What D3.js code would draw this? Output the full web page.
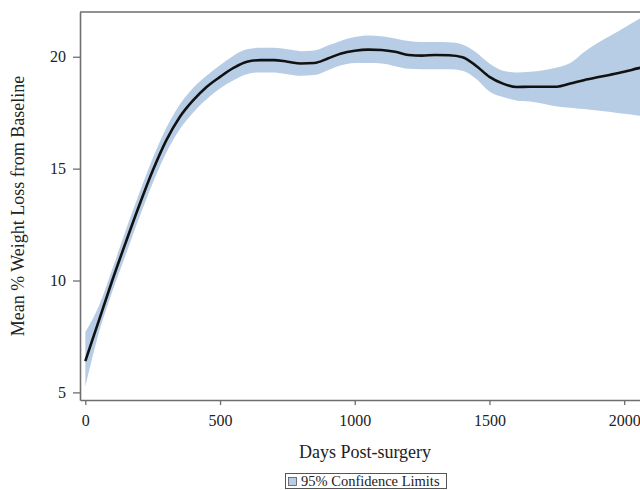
<!DOCTYPE html>
<html>
<head>
<meta charset="utf-8">
<script src="https://cdn.jsdelivr.net/npm/d3@7"></script>
<style>
  body { margin: 0; background: #fff; }
  svg { display: block; font-family: "Liberation Serif", "DejaVu Serif", serif; }
</style>
</head>
<body>
<svg id="chart" width="640" height="490"></svg>
<script>
// Datos
const days = [0, 50, 100, 150, 200, 250, 300, 350, 400, 450, 500, 550, 600, 650, 700, 750, 800, 850, 900, 950,
  1000, 1050, 1100, 1150, 1200, 1250, 1300, 1350, 1400, 1450, 1500, 1550, 1600, 1650, 1700, 1750, 1800,
  1850, 1900, 1950, 2000, 2050, 2100];
const meanLoss = [6.4, 8.2, 10.0, 11.7, 13.35, 14.9, 16.25, 17.3, 18.05, 18.65, 19.1, 19.5, 19.78, 19.85, 19.85,
  19.78, 19.7, 19.72, 19.92, 20.15, 20.27, 20.32, 20.3, 20.22, 20.08, 20.05, 20.08, 20.07, 19.98, 19.6, 19.1,
  18.8, 18.65, 18.66, 18.66, 18.66, 18.8, 18.95, 19.08, 19.2, 19.33, 19.48, 19.62];
const lowerCL = [5.25, 7.65, 9.5, 11.15, 12.8, 14.35, 15.7, 16.75, 17.5, 18.1, 18.58, 18.95, 19.22, 19.3, 19.3,
  19.22, 19.15, 19.18, 19.4, 19.62, 19.72, 19.72, 19.7, 19.58, 19.46, 19.44, 19.44, 19.44, 19.38, 19.02, 18.45,
  18.2, 18.05, 18.0, 17.9, 17.78, 17.72, 17.66, 17.6, 17.53, 17.45, 17.38, 17.3];
const upperCL = [7.7, 8.85, 10.5, 12.25, 13.9, 15.45, 16.8, 17.85, 18.6, 19.15, 19.62, 20.05, 20.33, 20.4, 20.4,
  20.33, 20.25, 20.28, 20.5, 20.72, 20.88, 20.95, 20.92, 20.82, 20.7, 20.66, 20.66, 20.65, 20.55, 20.2, 19.7,
  19.38, 19.3, 19.33, 19.4, 19.52, 19.72, 20.2, 20.6, 20.95, 21.3, 21.65, 22.0];
const xTicks = [0, 500, 1000, 1500, 2000];
const yTicks = [5, 10, 15, 20];

const bandColor = '#b7cde6';
const frameColor = '#6e6e6e';

const rows = days.map((d, i) => ({ day: d, mean: meanLoss[i], lo: lowerCL[i], hi: upperCL[i] }));

const svg = d3.select('#chart');
const plotLeft = 80, plotRight = 660, plotTop = 12, plotBottom = 400;

const x = d3.scaleLinear().domain([-19.7, 2133]).range([plotLeft, plotRight]);
const y = d3.scaleLinear().domain([4.66, 22.0]).range([plotBottom, plotTop]);

svg.append('clipPath').attr('id', 'plotClip')
  .append('rect').attr('x', plotLeft).attr('y', plotTop)
  .attr('width', plotRight - plotLeft).attr('height', plotBottom - plotTop);

const plot = svg.append('g').attr('clip-path', 'url(#plotClip)');

// Banda de confianza
const band = d3.area()
  .x(d => x(d.day))
  .y0(d => y(d.lo))
  .y1(d => y(d.hi))
  .curve(d3.curveMonotoneX);

plot.append('path')
  .datum(rows)
  .attr('d', band)
  .attr('fill', bandColor);

// Linea media
const line = d3.line()
  .x(d => x(d.day))
  .y(d => y(d.mean))
  .curve(d3.curveMonotoneX);

plot.append('path')
  .datum(rows)
  .attr('d', line)
  .attr('fill', 'none')
  .attr('stroke', '#111')
  .attr('stroke-width', 2.6)
  .attr('stroke-linejoin', 'round');

// Ejes
const yAxis = svg.append('g')
  .attr('transform', `translate(${plotLeft},0)`)
  .call(d3.axisLeft(y).tickValues(yTicks).tickSize(7).tickSizeOuter(0).tickPadding(7)
    .tickFormat(d3.format('d')));

const xAxis = svg.append('g')
  .attr('transform', `translate(0,${plotBottom})`)
  .call(d3.axisBottom(x).tickValues(xTicks).tickSize(5).tickSizeOuter(0).tickPadding(10)
    .tickFormat(d3.format('d')));

[yAxis, xAxis].forEach(g => {
  g.attr('font-family', null).attr('font-size', 16);
  g.select('.domain').attr('stroke', frameColor).attr('stroke-width', 1.6);
  g.selectAll('.tick line').attr('stroke', frameColor).attr('stroke-width', 1.3);
  g.selectAll('.tick text').attr('fill', '#222');
});

// Borde superior
svg.append('line')
  .attr('x1', plotLeft).attr('x2', plotRight)
  .attr('y1', plotTop).attr('y2', plotTop)
  .attr('stroke', frameColor).attr('stroke-width', 1.6);

// Titulos
svg.append('text')
  .attr('transform', 'translate(24,206) rotate(-90)')
  .attr('text-anchor', 'middle')
  .attr('font-size', 18)
  .attr('fill', '#222')
  .text('Mean % Weight Loss from Baseline');

svg.append('text')
  .attr('x', 365).attr('y', 458)
  .attr('text-anchor', 'middle')
  .attr('font-size', 18)
  .attr('fill', '#222')
  .text('Days Post-surgery');

// Leyenda
const legend = svg.append('g');
legend.append('rect')
  .attr('x', 285.5).attr('y', 473.5).attr('width', 161).attr('height', 15)
  .attr('fill', '#fff').attr('stroke', '#555').attr('stroke-width', 1);
legend.append('rect')
  .attr('x', 288.5).attr('y', 477.5).attr('width', 8).attr('height', 8)
  .attr('fill', bandColor).attr('stroke', '#555').attr('stroke-width', 0.8);
legend.append('text')
  .attr('x', 301).attr('y', 485.5)
  .attr('font-size', 14.5)
  .attr('fill', '#222')
  .text('95% Confidence Limits');
</script>
</body>
</html>
